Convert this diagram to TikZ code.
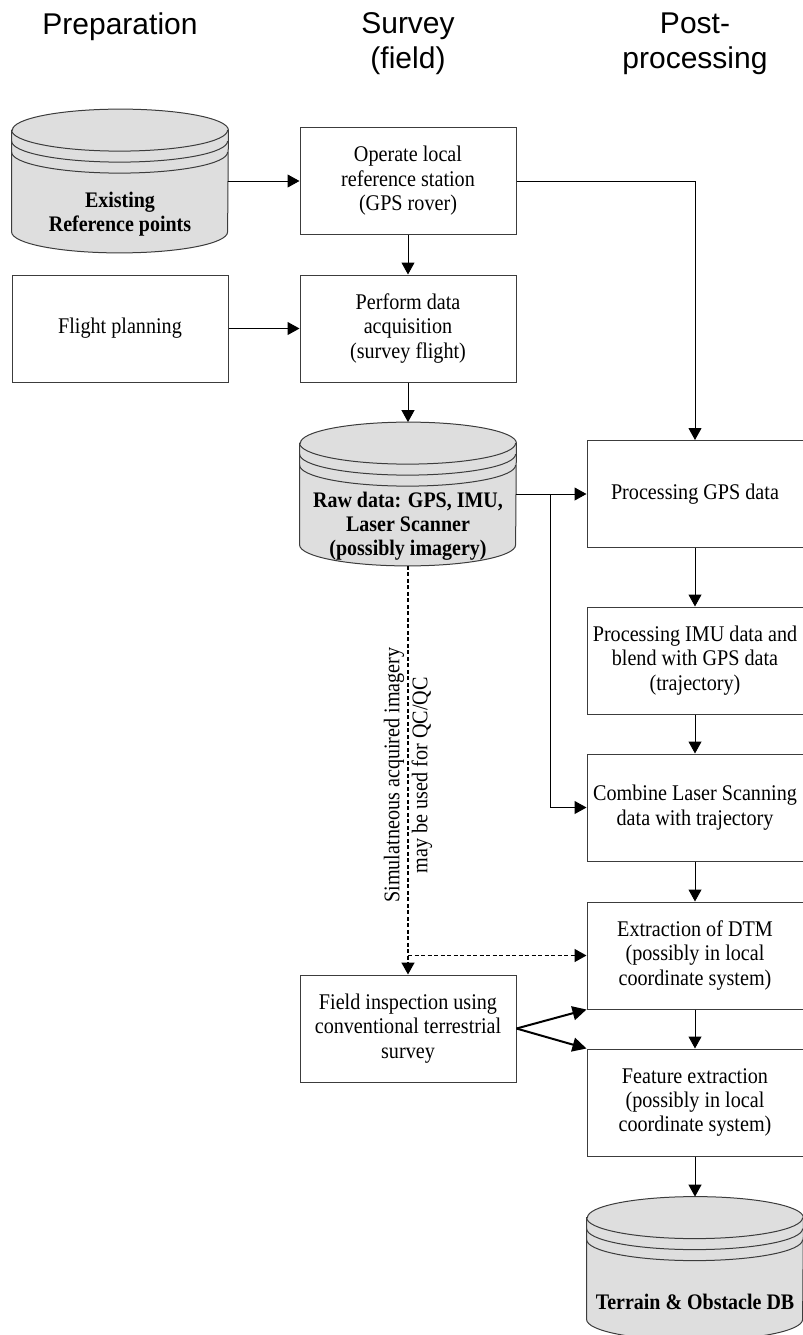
\documentclass[tikz,border=0pt]{standalone}
\usepackage{fontspec}
\setmainfont[FakeStretch=0.9]{Liberation Serif}
\setsansfont{Liberation Sans}
\definecolor{dbgray}{RGB}{222,222,222}
\definecolor{edgegray}{RGB}{60,60,60}
\usepackage{tikz}
\usetikzlibrary{arrows.meta,positioning,calc}
\tikzset{
    stepbox/.style={draw=edgegray, line width=0.5pt, align=center, minimum width=108pt, minimum height=53.5pt, inner sep=2pt, font=\fontsize{11.2}{12.2}\selectfont},
    dbnode/.style={minimum width=108pt, minimum height=71.5pt, inner sep=0pt},
    dbshape/.style={draw=edgegray, line width=0.5pt, fill=dbgray},
    dbtext/.style={align=center, inner sep=0pt, font=\fontsize{11.1}{12}\selectfont\bfseries},
    phase/.style={align=center, inner sep=0pt, anchor=north, font=\fontsize{15}{17.5}\selectfont\sffamily},
    notelabel/.style={align=center, inner sep=0pt, font=\fontsize{11.2}{14}\selectfont},
    flowarrow/.style={-{Triangle[length=6pt,width=6.5pt]}, line width=0.5pt},
    dasharrow/.style={flowarrow, line width=0.75pt, dash pattern=on 2pt off 1.25pt},
    boldarrow/.style={-{Triangle[length=7pt,width=7pt]}, line width=1pt}
}

\begin{document}
\begin{tikzpicture}[x=0.5pt, y=-0.5pt]
    \useasboundingbox (0,0) rectangle (803,1335);

    \node[phase] (prephead) at (120,12) {Preparation};
    \node[phase] (surveyhead) at (408,12) {Survey\\(field)};
    \node[phase] (posthead) at (695,12) {Post-\\processing};

    \node[dbnode] (refdb) at (120,181) {};
    \node[stepbox] (opstation) at (408,181) {Operate local\\reference station\\(GPS rover)};
    \node[stepbox] (flightplan) at (120,328.5) {Flight planning};
    \node[stepbox] (acquire) at (408,328.5) {Perform data\\acquisition\\(survey flight)};
    \node[dbnode] (rawdb) at (408,494) {};
    \node[stepbox] (gpsproc) at (695,494) {Processing GPS data};
    \node[stepbox] (imuproc) at (695,660.5) {Processing IMU data and\\blend with GPS data\\(trajectory)};
    \node[stepbox] (combine) at (695,807.5) {Combine Laser Scanning\\data with trajectory};
    \node[stepbox] (dtm) at (695,955.5) {Extraction of DTM\\(possibly in local\\coordinate system)};
    \node[stepbox] (feature) at (695,1102.5) {Feature extraction\\(possibly in local\\coordinate system)};
    \node[stepbox] (fieldinsp) at (408,1028.5) {Field inspection using\\conventional terrestrial\\survey};
    \node[dbnode] (terraindb) at (695,1268.5) {};

    \foreach \db in {refdb, rawdb, terraindb}{
        \filldraw[dbshape] ([yshift=-10.5pt]\db.north west) -- ([yshift=10.5pt]\db.south west)
            arc[start angle=180, end angle=360, x radius=54pt, y radius=10.5pt]
            -- ([yshift=-10.5pt]\db.north east)
            arc[start angle=0, end angle=180, x radius=54pt, y radius=10.5pt] -- cycle;
        \foreach \ringshift in {-10.5pt, -16pt, -21.5pt}
            \draw[dbshape, fill=none] ([yshift=\ringshift]\db.north west)
                arc[start angle=180, end angle=360, x radius=54pt, y radius=10.5pt];
    }

    \node[dbtext] (reftext) at ([yshift=-16.5pt]refdb.center) {Existing\\Reference points};
    \node[dbtext] (rawtext) at ([yshift=-16.25pt]rawdb.center) {Raw data: GPS, IMU,\\Laser Scanner\\(possibly imagery)};
    \node[dbtext] (terraintext) at ([yshift=-16.75pt]terraindb.center) {Terrain \& Obstacle DB};

    \node[notelabel, rotate=90] (qcnote) at (408,775) {Simulatneous acquired imagery\\may be used for QC/QC};

    \coordinate (rawsplit) at (550,494);
    \coordinate (qcsplit) at (rawdb.south |- dtm.west);

    \draw[flowarrow] (refdb) -- (opstation);
    \draw[flowarrow] (flightplan) -- (acquire);
    \draw[flowarrow] (opstation) -- (acquire);
    \draw[flowarrow] (acquire) -- (rawdb);
    \draw[flowarrow] (opstation.east) -| (gpsproc.north);
    \draw[flowarrow] (rawdb.east) -- (gpsproc.west);
    \draw[flowarrow] (rawsplit) |- (combine.west);
    \draw[flowarrow] (gpsproc) -- (imuproc);
    \draw[flowarrow] (imuproc) -- (combine);
    \draw[flowarrow] (combine) -- (dtm);
    \draw[flowarrow] (dtm) -- (feature);
    \draw[flowarrow] (feature) -- (terraindb);
    \draw[dasharrow] (rawdb.south) -- (fieldinsp.north);
    \draw[dasharrow] (qcsplit) -- (dtm.west);
    \draw[boldarrow] (fieldinsp.east) -- (dtm.south west);
    \draw[boldarrow] (fieldinsp.east) -- (feature.north west);
\end{tikzpicture}
\end{document}
